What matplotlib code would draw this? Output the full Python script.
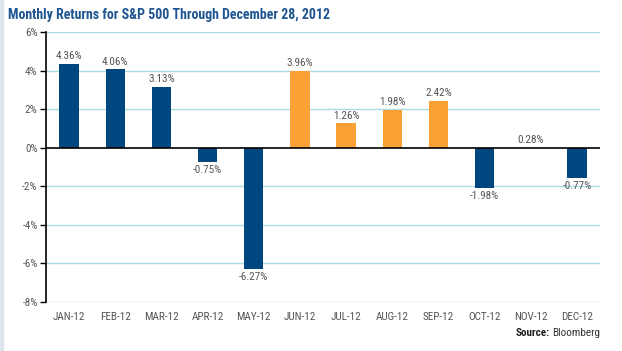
import numpy as np
import matplotlib.pyplot as plt
from matplotlib.patches import Rectangle
from matplotlib import font_manager

months = ["JAN-12", "FEB-12", "MAR-12", "APR-12", "MAY-12", "JUN-12",
          "JUL-12", "AUG-12", "SEP-12", "OCT-12", "NOV-12", "DEC-12"]
# bar heights as drawn in the picture, and the printed labels
heights = [4.36, 4.06, 3.13, -0.75, -6.27, 3.96, 1.26, 1.98, 2.42, -2.07, 0.0, -1.58]
labels = ["4.36%", "4.06%", "3.13%", "-0.75%", "-6.27%", "3.96%",
          "1.26%", "1.98%", "2.42%", "-1.98%", "0.28%", "-0.77%"]
orange_months = ["JUN-12", "JUL-12", "AUG-12", "SEP-12"]
yticks = [6, 4, 2, 0, -2, -4, -6, -8]

# narrow font, fall back to DejaVu condensed
names = {f.name for f in font_manager.fontManager.ttflist}
fam = "DejaVu Sans"
for cand in ["Roboto Condensed", "Archivo Narrow", "Liberation Sans Narrow"]:
    if cand in names:
        fam = cand
        break
plt.rcParams["font.family"] = [fam, "DejaVu Sans"]
plt.rcParams["font.stretch"] = "condensed"

navy = "#00467f"
orange = "#f9a134"
grid_c = "#a9dce4"
txt = "#555555"

fig = plt.figure(figsize=(6.22, 3.51), dpi=100)
ax = fig.add_axes([46 / 622, 1 - 302 / 351, (600 - 46) / 622, (302 - 32) / 351])

x = np.arange(len(months))
cols = [orange if m in orange_months else navy for m in months]
ax.bar(x, heights, width=0.42, color=cols, zorder=3)

for xi, h, lab in zip(x, heights, labels):
    if lab.startswith("-"):
        ax.text(xi, h - 0.15, lab, ha="center", va="top", fontsize=8, color=txt, zorder=4)
    else:
        ax.text(xi, max(h, 0) + 0.15, lab, ha="center", va="bottom", fontsize=8, color=txt, zorder=4)

ax.set_xlim(-0.5, len(months) - 0.5)
ax.set_ylim(-8, 6)
ax.set_yticks(yticks)
ax.set_yticklabels([f"{v}%" for v in yticks])
ax.set_xticks(x)
ax.set_xticklabels(months)
ax.tick_params(axis="y", length=4, width=1, colors="black", labelcolor=txt, labelsize=8, pad=2)
ax.tick_params(axis="x", length=0, labelcolor=txt, labelsize=8, pad=7)
for v in yticks:
    if v != 0:
        ax.axhline(v, color=grid_c, lw=1, zorder=1)
ax.axhline(0, color="black", lw=1.2, zorder=4)
for s in ["top", "right", "bottom"]:
    ax.spines[s].set_visible(False)
ax.spines["left"].set_linewidth(1.2)

fig.text(8 / 622, 1 - 15 / 351, "Monthly Returns for S&P 500 Through December 28, 2012",
         fontsize=10, fontweight="bold", color="#1f5591", va="center", ha="left")
src = fig.text(600 / 622, 1 - 333 / 351, "Bloomberg", fontsize=8, color="#333333",
               ha="right", va="center")
fig.canvas.draw()
bb = src.get_window_extent()
fig.text((bb.x0 - 2) / 622, 1 - 333 / 351, "Source:", fontsize=8, fontweight="bold",
         color="#222222", ha="right", va="center")
fig.patches.append(Rectangle((0, 0), 3 / 622, 1, transform=fig.transFigure,
                             color="#dde6ee", zorder=0))

fig.savefig("out.png", dpi=100)
